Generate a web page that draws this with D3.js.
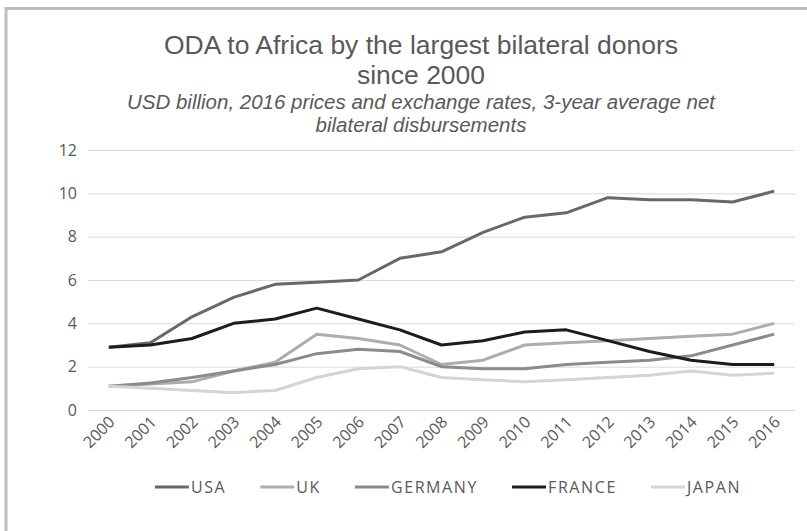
<!DOCTYPE html>
<html>
<head>
<meta charset="utf-8">
<script src="https://cdn.jsdelivr.net/npm/d3@7"></script>
<style>
  html, body { margin: 0; padding: 0; background: #fff; }
  svg { display: block; }
</style>
</head>
<body>
<div id="chart"></div>
<script>
// data
const years = ['2000', '2001', '2002', '2003', '2004', '2005', '2006', '2007', '2008',
  '2009', '2010', '2011', '2012', '2013', '2014', '2015', '2016'];
const usa = [2.9, 3.1, 4.3, 5.2, 5.8, 5.9, 6.0, 7.0, 7.3, 8.2, 8.9, 9.1, 9.8, 9.7, 9.7, 9.6, 10.1];
const uk = [1.1, 1.2, 1.3, 1.8, 2.2, 3.5, 3.3, 3.0, 2.1, 2.3, 3.0, 3.1, 3.2, 3.3, 3.4, 3.5, 4.0];
const germany = [1.1, 1.25, 1.5, 1.8, 2.1, 2.6, 2.8, 2.7, 2.0, 1.9, 1.9, 2.1, 2.2, 2.3, 2.5, 3.0, 3.5];
const france = [2.9, 3.0, 3.3, 4.0, 4.2, 4.7, 4.2, 3.7, 3.0, 3.2, 3.6, 3.7, 3.2, 2.7, 2.3, 2.1, 2.1];
const japan = [1.1, 1.0, 0.9, 0.8, 0.9, 1.5, 1.9, 2.0, 1.5, 1.4, 1.3, 1.4, 1.5, 1.6, 1.8, 1.6, 1.7];
const seriesNames = ['USA', 'UK', 'GERMANY', 'FRANCE', 'JAPAN'];
const yTicks = [0, 2, 4, 6, 8, 10, 12];

const titleLines = ['ODA to Africa by the largest bilateral donors', 'since 2000'];
const subtitleLines = ['USD billion, 2016 prices and exchange rates, 3-year average net',
  'bilateral disbursements'];

const series = [
  { name: seriesNames[0], values: usa, color: '#686868' },
  { name: seriesNames[1], values: uk, color: '#adadad' },
  { name: seriesNames[2], values: germany, color: '#8b8b8b' },
  { name: seriesNames[3], values: france, color: '#1c1c1c' },
  { name: seriesNames[4], values: japan, color: '#d4d4d4' }
];

const width = 807, height = 531;
const margin = { left: 88, right: 12, top: 150, bottom: 121 };
const textColor = '#595959';
const font = '"Open Sans", sans-serif';
// tighter line metrics for the stacked title lines
const titleFont = '"Liberation Sans", Arial, sans-serif';

const svg = d3.select('#chart').append('svg')
  .attr('width', width)
  .attr('height', height);

// frame (only top and left edges are visible)
svg.append('line')
  .attr('x1', 5).attr('x2', width).attr('y1', 8.5).attr('y2', 8.5)
  .attr('stroke', '#bdbdbd').attr('stroke-width', 3);
svg.append('line')
  .attr('x1', 6).attr('x2', 6).attr('y1', 7).attr('y2', height)
  .attr('stroke', '#bdbdbd').attr('stroke-width', 3);

// titles
svg.selectAll('text.title')
  .data(titleLines)
  .enter().append('text')
  .attr('class', 'title')
  .attr('x', 421)
  .attr('y', (d, i) => 54 + i * 30)
  .attr('text-anchor', 'middle')
  .attr('font-family', titleFont)
  .attr('font-size', 26.5)
  .attr('fill', textColor)
  .text(d => d);

svg.selectAll('text.subtitle')
  .data(subtitleLines)
  .enter().append('text')
  .attr('class', 'subtitle')
  .attr('x', 421)
  .attr('y', (d, i) => 109 + i * 23)
  .attr('text-anchor', 'middle')
  .attr('font-family', titleFont)
  .attr('font-style', 'italic')
  .attr('font-size', 20.5)
  .attr('fill', textColor)
  .text(d => d);

const plotW = width - margin.left - margin.right;
const plotH = height - margin.top - margin.bottom;

const g = svg.append('g')
  .attr('transform', `translate(${margin.left},${margin.top})`);

const x = d3.scaleBand()
  .domain(years)
  .range([0, plotW]);

const y = d3.scaleLinear()
  .domain([0, 12])
  .range([plotH, 0]);

// y axis: gridlines + labels, no axis line
const yAxis = g.append('g')
  .call(d3.axisLeft(y).tickValues(yTicks).tickSize(-plotW).tickPadding(11));
yAxis.select('.domain').remove();
yAxis.selectAll('.tick line').attr('stroke', '#d9d9d9').attr('stroke-width', 1);
yAxis.selectAll('.tick text')
  .attr('fill', textColor)
  .attr('font-family', font)
  .attr('font-size', 16);

// x axis: rotated year labels
const xAxis = g.append('g')
  .attr('transform', `translate(0,${plotH})`)
  .call(d3.axisBottom(x).tickSize(0).tickPadding(0));
xAxis.select('.domain').remove();
xAxis.selectAll('.tick text')
  .attr('fill', textColor)
  .attr('font-family', font)
  .attr('font-size', 16)
  .attr('text-anchor', 'end')
  .attr('dy', 0)
  .attr('transform', 'translate(7,13) rotate(-45)');

// lines
const line = d3.line()
  .x((d, i) => x(years[i]) + x.bandwidth() / 2)
  .y(d => y(d));

g.selectAll('path.series')
  .data(series)
  .enter().append('path')
  .attr('class', 'series')
  .attr('fill', 'none')
  .attr('stroke', d => d.color)
  .attr('stroke-width', 3)
  .attr('stroke-linejoin', 'round')
  .attr('d', d => line(d.values));

// legend
const legend = svg.append('g').attr('transform', 'translate(0,487)');
const items = legend.selectAll('g.item')
  .data(series)
  .enter().append('g')
  .attr('class', 'item');

items.append('line')
  .attr('x1', 0).attr('x2', 34)
  .attr('y1', 0).attr('y2', 0)
  .attr('stroke', d => d.color)
  .attr('stroke-width', 3);

items.append('text')
  .attr('x', 36)
  .attr('y', 6)
  .attr('font-family', font)
  .attr('font-size', 16)
  .attr('letter-spacing', 1.6)
  .attr('fill', textColor)
  .text(d => d.name);

// place items side by side, centred under the plot
let widths = [];
items.each(function() {
  widths.push(36 + d3.select(this).select('text').node().getComputedTextLength());
});
const gap = 34;
const total = d3.sum(widths) + gap * (widths.length - 1);
let cursor = 448 - total / 2;
items.attr('transform', (d, i) => {
  const tx = cursor;
  cursor += widths[i] + gap;
  return `translate(${tx},0)`;
});
</script>
</body>
</html>
